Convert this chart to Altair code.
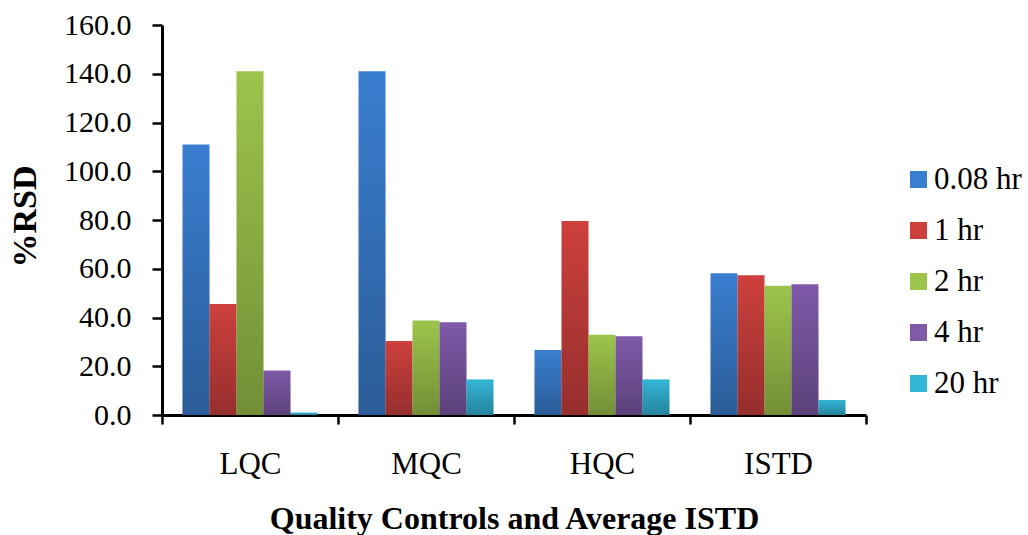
import altair as alt
import pandas as pd

# %RSD per quality control level and sampling time
groups = ["LQC", "MQC", "HQC", "ISTD"]
times = ["0.08 hr", "1 hr", "2 hr", "4 hr", "20 hr"]
rsd_008 = [111.0, 141.0, 26.7, 58.2]
rsd_1 = [45.5, 30.4, 79.6, 57.3]
rsd_2 = [141.0, 38.8, 32.9, 53.0]
rsd_4 = [18.3, 38.1, 32.3, 53.6]
rsd_20 = [1.0, 14.6, 14.6, 6.2]
y_ticks = [0, 20, 40, 60, 80, 100, 120, 140, 160]
colors = ["#3A7ED0", "#CD403D", "#9CC44B", "#7E5AA8", "#33B5D5"]

series = [rsd_008, rsd_1, rsd_2, rsd_4, rsd_20]
rows = []
for t, vals in zip(times, series):
    for g, v in zip(groups, vals):
        rows.append({"group": g, "time": t, "rsd": v})
df = pd.DataFrame(rows)

FONT = "Liberation Serif"

x_enc = alt.X(
    "group:N",
    sort=groups,
    scale=alt.Scale(paddingInner=0, paddingOuter=0),
    axis=alt.Axis(
        title="Quality Controls and Average ISTD",
        titleFont=FONT, titleFontSize=32, titleFontWeight="bold", titleColor="black",
        titleX=352, titleY=113, titleAlign="center", titleBaseline="alphabetic",
        labelFont=FONT, labelFontSize=31, labelColor="black",
        labelBaseline="alphabetic", labelPadding=49, labelAngle=0,
        tickBand="extent", tickSize=9, tickWidth=2.5, tickColor="black",
        domainColor="black", domainWidth=3, grid=False,
    ),
)
xo_enc = alt.XOffset(
    "time:N", sort=times,
    scale=alt.Scale(domain=times, paddingInner=0, paddingOuter=0.76),
)
y_enc = alt.Y(
    "rsd:Q",
    scale=alt.Scale(domain=[0, 160], nice=False),
    axis=alt.Axis(
        title="%RSD", values=y_ticks, format=".1f", grid=False,
        titleFont=FONT, titleFontSize=34, titleFontWeight="bold", titleColor="black",
        titleAngle=270, titleX=-137, titleY=191, titleAlign="center", titleBaseline="middle",
        labelFont=FONT, labelFontSize=30, labelColor="black", labelPadding=21,
        tickSize=10, tickWidth=2.5, tickColor="black",
        domainColor="black", domainWidth=3,
    ),
)

bars = alt.Chart(df).mark_bar(strokeWidth=0).encode(
    x=x_enc,
    xOffset=xo_enc,
    y=y_enc,
    color=alt.Color(
        "time:N", sort=times,
        scale=alt.Scale(domain=times, range=colors),
        legend=alt.Legend(
            title=None, orient="none", legendX=741, legendY=139,
            symbolType="square", symbolSize=289, symbolStrokeWidth=0,
            labelFont=FONT, labelFontSize=31, labelColor="black",
            labelOffset=0, rowPadding=19, padding=0,
        ),
    ),
)

# darkening toward the base of each bar
shade = alt.Chart(df).mark_bar(
    strokeWidth=0,
    fill=alt.Gradient(
        gradient="linear", x1=0, y1=0, x2=0, y2=1,
        stops=[
            alt.GradientStop(color="rgba(0,0,0,0)", offset=0),
            alt.GradientStop(color="rgba(0,0,0,0.27)", offset=1),
        ],
    ),
).encode(x=x_enc, xOffset=xo_enc, y=y_enc)

chart = (
    alt.layer(bars, shade)
    .properties(
        width=704, height=390,
        background="white",
        autosize=alt.AutoSizeParams(type="none"),
        padding={"left": 162, "top": 25, "right": 162, "bottom": 120},
    )
    .configure_view(stroke="#ffffff", strokeWidth=1)
)

chart.save("out.html", embed_options={"renderer": "svg", "actions": False})
